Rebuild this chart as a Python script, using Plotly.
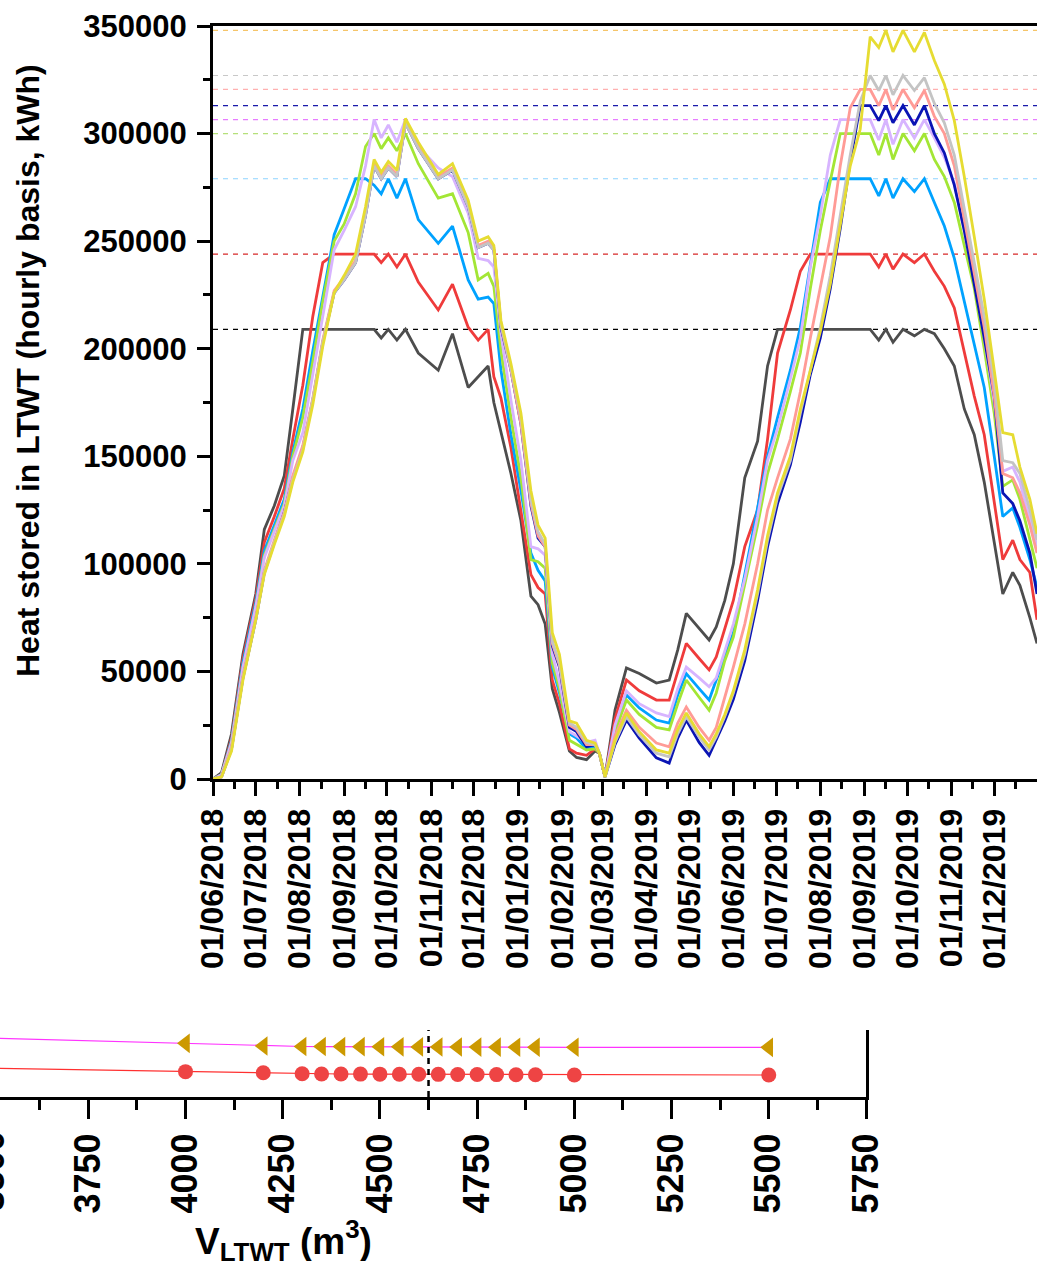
import numpy as np
import plotly.graph_objects as go

# ---------------- data: top chart (values in thousand kWh) ----------------
dates = ["2018-06-01","2018-06-07","2018-06-14","2018-06-22","2018-07-01","2018-07-07","2018-07-14","2018-07-21","2018-07-27","2018-08-03",
"2018-08-10","2018-08-17","2018-08-25","2018-09-01","2018-09-09","2018-09-16","2018-09-22","2018-09-27","2018-10-02","2018-10-08",
"2018-10-14","2018-10-23","2018-11-06","2018-11-16","2018-11-27","2018-12-04","2018-12-11","2018-12-15","2018-12-20","2018-12-27",
"2019-01-03","2019-01-10","2019-01-15","2019-01-20","2019-01-25","2019-01-30","2019-02-06","2019-02-11","2019-02-18","2019-02-24",
"2019-02-27","2019-03-03","2019-03-10","2019-03-18","2019-03-27","2019-04-08","2019-04-17","2019-04-23","2019-04-29","2019-05-08",
"2019-05-15","2019-05-20","2019-05-26","2019-06-01","2019-06-09","2019-06-18","2019-06-25","2019-07-02","2019-07-11","2019-07-18",
"2019-07-25","2019-08-01","2019-08-08","2019-08-15","2019-08-22","2019-08-29","2019-09-05","2019-09-11","2019-09-16","2019-09-21",
"2019-09-28","2019-10-06","2019-10-13","2019-10-20","2019-10-27","2019-11-03","2019-11-10","2019-11-17","2019-11-24","2019-12-01",
"2019-12-07","2019-12-14","2019-12-19","2019-12-26","2019-12-31"]

s_darkgray = [0,3,21,58,86,116,127,141,172,209,
 209,209,209,209,209,209,209,205,209,204,
 209,198,190,207,182,187,192,175,161,142,
 120,85,81,72,42,31,13,10,9,13,
 12,1,32,51.6,49,44.6,46,60,77,70,
 64.6,70.7,83,100,140,157,192,209,209,209,
 209,209,209,209,209,209,209,204,209,203,
 209,206,209,207,200,192,172,160,138,110,
 86,96,90,75,63]
s_red = [0,2,19,56,84,110,122,135,158,183,
 215,240,244,244,244,244,244,240,244,238,
 244,231,218,230,210,204,209,187,177,154,
 125,95,89,86,46,35,14,12,11,14,
 12,1,28,46,41,36.7,36.7,50,63,56,
 50.7,56.7,70,83,108,125,158,198,218,236,
 244,244,244,244,244,244,244,238,244,237,
 244,240,244,236,229,219,198,178,160,128,
 102,111,102,96,74]
s_blue = [0,2,18,54,82,106,118,130,152,172,
 199,225,253,265,279,279,276,272,279,270,
 279,260,249,257,232,223,224,221,190,160,
 134,105,97,92,52,40,21,19,14,15,
 12,1,24,39,33,27.4,26,39,49,42,
 36.7,46,57,68,95,125,150,168,190,210,
 240,268,279,279,279,279,279,271,279,270,
 279,273,279,268,257,242,222,203,182,150,
 122,126,117,102,89]
s_green = [0,2,17,52,80,104,116,128,150,168,
 194,222,250,258,272,294,300,293,298,292,
 300,286,270,272,254,232,235,229,199,168,
 140,102,101,98,54,42,18,16,13.5,14,
 12,1,22,36.7,30,24,22.8,35,46,38,
 32,40,55,66,90,118,142,158,180,198,
 228,255,278,300,300,300,300,290,300,288,
 300,292,300,288,280,268,248,228,200,170,
 136,139,130,112,98]
s_violet = [0,2,17,52,80,103,115,127,148,161,
 188,215,246,255,266,285,306.5,298,304,296,
 306.5,294,284,280,263,242,241,238,207,176,
 148,108,107,104,58,45,22,20,17,18,
 12,1,25,41,35,30.7,29,42,52,47,
 42.9,47,60,72,93,122,148,163,186,205,
 238,262,290,306.5,306.5,306.5,306.5,297,306.5,295,
 306.5,298,306.5,298,289,277,255,232,205,175,
 143,145,138,120,108]
s_darkblue = [0,1,14,47,74,96,110,124,140,154,
 176,203,226,232,240,262,285,279,284,280,
 305,293,279,283,266,247,249,246,210,190,
 165,127,112,108,62,52,24,22,15,16,
 12,1,16,27.4,19,9.8,7.4,19,27.4,17,
 11,18,27,37,55,83,108,128,146,166,
 188,205,228,256,287,313,313,306,313,305,
 313,304,313,300,291,276,255,230,205,178,
 133,128,120,105,86]
s_pink = [0,1,15,48,75,97,111,124,141,155,
 177,204,227,233,241,263,286,280,285,281,
 305,294,280,284,267,248,250,247,211,190,
 165,128,113,108,63,53,25,23,16,16,
 12,1,20,32,24,16.7,15,26,33.5,24,
 18,24,38,52,72,100,125,140,158,180,
 205,228,252,285,312,320.5,320.5,313,320.5,311,
 320.5,312,320,308,300,285,260,236,210,178,
 142,140,133,118,105]
s_gray = [0,1,14,47,74,96,110,123,139,153,
 176,203,226,232,240,262,285,279,284,280,
 305,293,279,283,266,247,249,246,211,191,
 168,130,115,109,64,54,26,24,17,16,
 12,1,17,29,20.5,12,10.3,21,29,19.5,
 13.5,19.6,29,40,58,86,111,131,148,170,
 190,210,234,262,290,315,327,320,327,318,
 327,320,326,314,305,290,265,240,215,185,
 148,147,142,125,111]
s_yellow = [0,1,13,46,74,95,109,122,138,152,
 174,201,226,234,244,266,288,282,287,283,
 307,296,281,286,269,250,252,248,213,193,
 170,134,118,112,68,58,27,26,18,16.7,
 12,1,18,30.7,22,13.5,12,23,30.7,21,
 15,21,30,41,60,88,113,133,150,172,
 190,208,230,258,285,302,345,340,348,338,
 348,338,347,334,323,306,280,252,223,190,
 161,160,145,130,114]

series_values = [s_darkgray, s_red, s_blue, s_green, s_violet, s_darkblue, s_pink, s_gray, s_yellow]
series_colors = ["#4d4d4d", "#ef3b3b", "#00a2ff", "#a3e635", "#d7b4ff", "#0a14b4", "#ff9b96", "#c4c4c4", "#e6dc32"]

# capacity levels (dashed) in kWh
cap_levels = [209000, 244000, 279000, 300000, 306500, 313000, 320500, 327000, 348000]
cap_colors = ["#000000", "#d62828", "#8fd3ff", "#b5e07a", "#e77cff", "#1a1aaa", "#ffb0b0", "#c8c8c8", "#f5c56a"]

# ---------------- data: bottom chart ----------------
volumes = [3500, 4000, 4200, 4300, 4350, 4400, 4450, 4500, 4550, 4600, 4650, 4700, 4750, 4800, 4850, 4900, 5000, 5500]
tri_values = [88.0, 80.1, 76.1, 75.4, 75.3, 75.2, 75.1, 75.0, 74.9, 74.8, 74.7, 74.6, 74.5, 74.4, 74.3, 74.2, 74.2, 74.1]
circ_values = [43.0, 37.8, 36.3, 34.6, 34.4, 34.3, 34.2, 34.1, 34.0, 33.9, 33.8, 33.6, 33.5, 33.4, 33.3, 33.2, 32.9, 32.8]
v_marker = 4625
bottom_ticks = [3750, 4000, 4250, 4500, 4750, 5000, 5250, 5500, 5750]

W, H = 1037, 1261
FONT = "Liberation Sans, Arial, sans-serif"

fig = go.Figure()

for vals, col in zip(series_values, series_colors):
    fig.add_trace(go.Scatter(x=dates, y=np.array(vals) * 1000, mode="lines",
                             line=dict(color=col, width=2.8), xaxis="x", yaxis="y",
                             showlegend=False, hoverinfo="skip"))

for lvl, col in zip(cap_levels, cap_colors):
    fig.add_shape(type="line", xref="x domain", yref="y", x0=0, x1=1, y0=lvl, y1=lvl,
                  line=dict(color=col, width=1.2, dash="5px,5px"), layer="below")

# bottom panel
fig.add_trace(go.Scatter(x=volumes, y=tri_values, mode="lines+markers", xaxis="x2", yaxis="y2",
                         line=dict(color="#ff33ff", width=1.2),
                         marker=dict(symbol="triangle-left", size=17, color="#cc9900"),
                         showlegend=False, hoverinfo="skip", cliponaxis=False))
fig.add_trace(go.Scatter(x=volumes, y=circ_values, mode="lines+markers", xaxis="x2", yaxis="y2",
                         line=dict(color="#ff3030", width=1.2),
                         marker=dict(symbol="circle", size=15, color="#ee4444"),
                         showlegend=False, hoverinfo="skip", cliponaxis=False))
fig.add_shape(type="line", xref="x2", yref="y2 domain", x0=v_marker, x1=v_marker, y0=0, y1=1,
              line=dict(color="black", width=2.5, dash="6px,5px"))

def px(xp):
    return xp / W

def py(yp):
    return 1 - yp / H

fig.update_layout(
    width=W, height=H, autosize=False,
    margin=dict(l=0, r=0, t=0, b=0, pad=0, autoexpand=False),
    paper_bgcolor="white", plot_bgcolor="white",
    font=dict(family=FONT, color="black"),
    xaxis=dict(domain=[px(213), 1.0], anchor="y", type="date",
               range=["2018-06-01", "2019-12-31"],
               tick0="2018-06-01", dtick="M1", tickformat="%d/%m/%Y", tickangle=-90,
               ticks="outside", ticklen=14, tickwidth=3, tickcolor="black",
               showline=True, linewidth=3, linecolor="black", mirror=True,
               showgrid=False, zeroline=False, automargin=False,
               tickfont=dict(size=32, family=FONT, weight="bold"),
               minor=dict(tick0="2018-06-16", dtick="M1", ticks="outside", ticklen=7, tickwidth=2.5, tickcolor="black", showgrid=False)),
    yaxis=dict(domain=[py(779), py(26)], anchor="x", range=[0, 350000],
               tick0=0, dtick=50000, tickformat="d",
               ticks="outside", ticklen=13, tickwidth=3, tickcolor="black",
               showline=True, linewidth=3, linecolor="black", mirror=False,
               showgrid=False, zeroline=False, ticklabelstandoff=4, automargin=False,
               tickfont=dict(size=31, family=FONT, weight="bold"),
               minor=dict(dtick=25000, ticks="outside", ticklen=7, tickwidth=2.5, tickcolor="black", showgrid=False)),
    xaxis2=dict(domain=[0, px(866)], anchor="y2", range=[3523, 5750],
                tickvals=bottom_ticks, ticktext=[str(t) for t in bottom_ticks], tickangle=-90,
                ticks="outside", ticklen=19, tickwidth=3, tickcolor="black",
                showline=True, linewidth=3, linecolor="black", automargin=False,
                showgrid=False, zeroline=False, ticklabelstandoff=0,
                tickfont=dict(size=36, family=FONT, weight="bold"),
                minor=dict(tickvals=[3625, 3875, 4125, 4375, 4625, 4875, 5125, 5375, 5625],
                           ticks="outside", ticklen=10, tickwidth=3, tickcolor="black", showgrid=False)),
    yaxis2=dict(domain=[py(1097), py(1030)], anchor="x2", range=[0, 100], side="right",
                showline=True, linewidth=3, linecolor="black", ticks="", showticklabels=False,
                showgrid=False, zeroline=False, automargin=False),
)

fig.add_annotation(text="Heat stored in LTWT (hourly basis, kWh)", xref="paper", yref="paper",
                   x=px(28), y=py(371), textangle=-90, showarrow=False,
                   font=dict(size=32, family=FONT, weight="bold"), xanchor="center", yanchor="middle")
fig.add_annotation(text="V<sub>LTWT</sub> (m<sup>3</sup>)", xref="paper", yref="paper",
                   x=px(283), y=py(1240), showarrow=False,
                   font=dict(size=37, family=FONT, weight="bold"), xanchor="center", yanchor="middle")
fig.add_annotation(text="3500", xref="paper", yref="paper", x=px(-9), y=py(1171), textangle=-90,
                   showarrow=False, font=dict(size=36, family=FONT, weight="bold"),
                   xanchor="center", yanchor="middle")

fig.write_html("out.html")
